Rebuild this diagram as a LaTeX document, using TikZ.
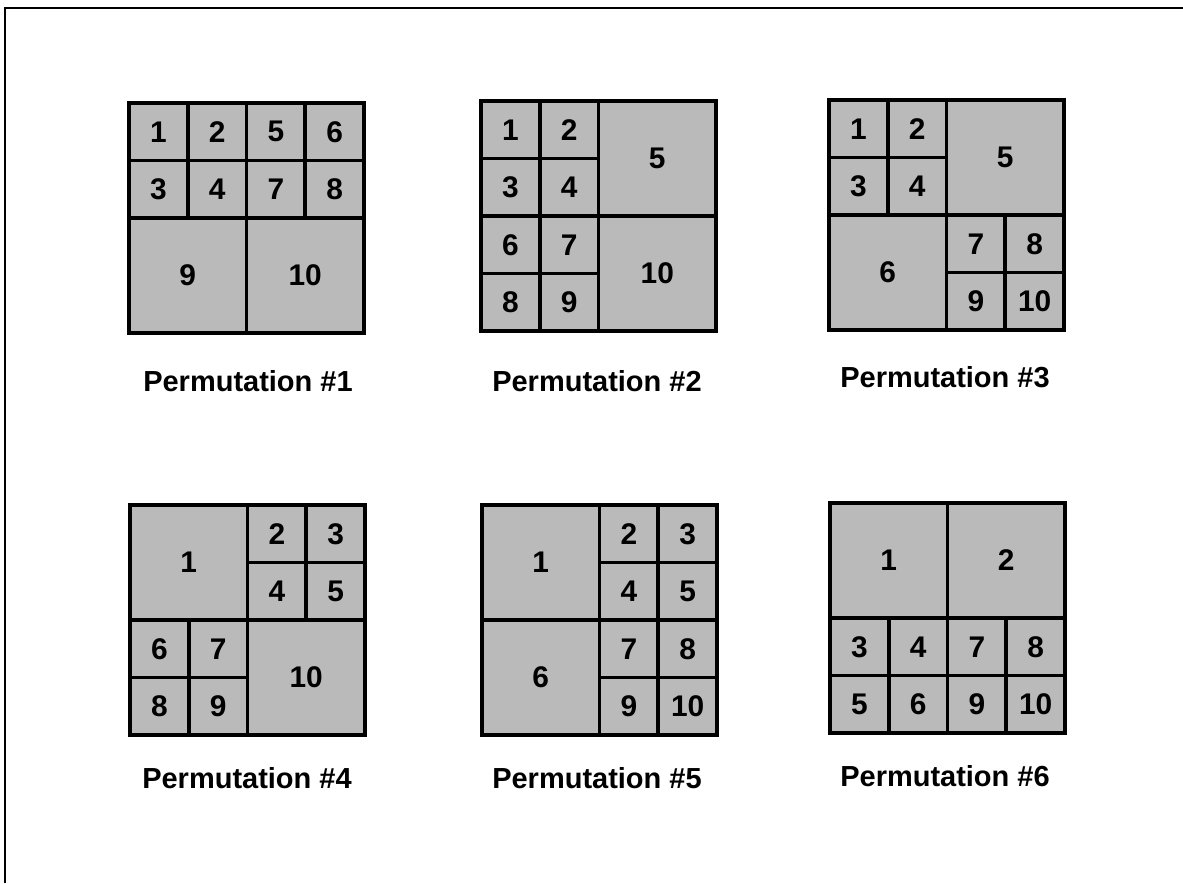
\documentclass[tikz,border=0pt]{standalone}
\usepackage{fontspec}
\setmainfont{Liberation Sans}

% one permutation grid: #1 name, #2/#3 top left corner (px), #4 cells x/y/w/h/number in quarter units
\newcommand{\permgrid}[4]{%
  \foreach \cx/\cy/\cw/\ch/\num in {#4} {
    \node[cell, minimum width=\cw*1.175cm, minimum height=\ch*1.15cm]
      (#1-\num) at ({#2+(\cx+\cw/2)*58.75},{#3+(\cy+\ch/2)*57.5}) {\num};
  }%
  \draw[gridframe] (#2,#3) rectangle ++(235,230);
}

\begin{document}
\begin{tikzpicture}[
    x=0.02cm, y=-0.02cm,
    cell/.style={rectangle, draw=black, fill=black!27, line width=2.1pt, line cap=rect, inner sep=0pt, font=\fontsize{17}{20}\selectfont\bfseries},
    gridframe/.style={draw=black, line width=2.3pt},
    caption/.style={anchor=base, inner sep=0pt, font=\fontsize{16.5}{19}\selectfont\bfseries},
    frame/.style={line width=1.1pt}
]
\useasboundingbox (0,0) rectangle (1183,883);

% scanned frame, only left and top edges visible
\coordinate (fbl) at (5,883);
\coordinate (ftl) at (5,8);
\coordinate (ftr) at (1183,8);
\draw[frame] (fbl) -- (ftl) -- (ftr);

% Top row
\permgrid{pa}{129}{103}{0/0/1/1/1, 1/0/1/1/2, 2/0/1/1/5, 3/0/1/1/6, 0/1/1/1/3, 1/1/1/1/4, 2/1/1/1/7, 3/1/1/1/8, 0/2/2/2/9, 2/2/2/2/10}
\permgrid{pb}{481}{101}{0/0/1/1/1, 1/0/1/1/2, 0/1/1/1/3, 1/1/1/1/4, 2/0/2/2/5, 0/2/1/1/6, 1/2/1/1/7, 0/3/1/1/8, 1/3/1/1/9, 2/2/2/2/10}
\permgrid{pc}{829}{100}{0/0/1/1/1, 1/0/1/1/2, 0/1/1/1/3, 1/1/1/1/4, 2/0/2/2/5, 0/2/2/2/6, 2/2/1/1/7, 3/2/1/1/8, 2/3/1/1/9, 3/3/1/1/10}

\node[caption] (capa) at (248,391) {Permutation \#1};
\node[caption] (capb) at (597,391) {Permutation \#2};
\node[caption] (capc) at (945,387) {Permutation \#3};

% Bottom row
\permgrid{pd}{130}{505}{0/0/2/2/1, 2/0/1/1/2, 3/0/1/1/3, 2/1/1/1/4, 3/1/1/1/5, 0/2/1/1/6, 1/2/1/1/7, 0/3/1/1/8, 1/3/1/1/9, 2/2/2/2/10}
\permgrid{pe}{482}{505}{0/0/2/2/1, 2/0/1/1/2, 3/0/1/1/3, 2/1/1/1/4, 3/1/1/1/5, 0/2/2/2/6, 2/2/1/1/7, 3/2/1/1/8, 2/3/1/1/9, 3/3/1/1/10}
\permgrid{pf}{830}{503}{0/0/2/2/1, 2/0/2/2/2, 0/2/1/1/3, 1/2/1/1/4, 0/3/1/1/5, 1/3/1/1/6, 2/2/1/1/7, 3/2/1/1/8, 2/3/1/1/9, 3/3/1/1/10}

\node[caption] (capd) at (247,788) {Permutation \#4};
\node[caption] (cape) at (597,788) {Permutation \#5};
\node[caption] (capf) at (945,786) {Permutation \#6};

\end{tikzpicture}
\end{document}
